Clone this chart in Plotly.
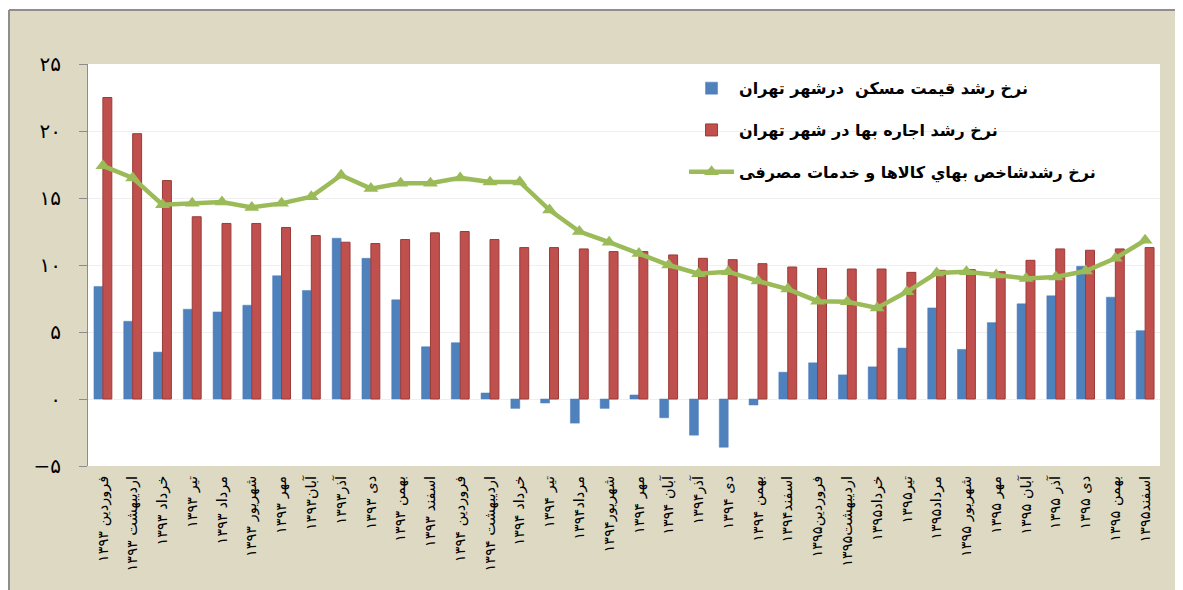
import plotly.graph_objects as go

categories = [
    "فروردین ۱۳۹۳", "اردیبهشت ۱۳۹۳", "خرداد ۱۳۹۳", "تیر ۱۳۹۳", "مرداد ۱۳۹۳", "شهریور ۱۳۹۳",
    "مهر ۱۳۹۳", "آبان۱۳۹۳", "آذر۱۳۹۳", "دی ۱۳۹۳", "بهمن ۱۳۹۳", "اسفند ۱۳۹۳",
    "فروردین ۱۳۹۴", "اردیبهشت ۱۳۹۴", "خرداد ۱۳۹۴", "تیر ۱۳۹۴", "مرداد۱۳۹۴", "شهریور۱۳۹۴",
    "مهر ۱۳۹۴", "آبان ۱۳۹۴", "آذر۱۳۹۴", "دی ۱۳۹۴", "بهمن ۱۳۹۴", "اسفند۱۳۹۴",
    "فروردین۱۳۹۵", "اردیبهشت۱۳۹۵", "خرداد۱۳۹۵", "تیر۱۳۹۵", "مرداد۱۳۹۵", "شهریور ۱۳۹۵",
    "مهر ۱۳۹۵", "آبان ۱۳۹۵", "آذر ۱۳۹۵", "دی ۱۳۹۵", "بهمن ۱۳۹۵", "اسفند۱۳۹۵",
]

housing_price = [
    8.4, 5.8, 3.5, 6.7, 6.5, 7.0, 9.2, 8.1, 12.0, 10.5, 7.4, 3.9,
    4.2, 0.45, -0.7, -0.3, -1.8, -0.7, 0.3, -1.4, -2.7, -3.6, -0.45, 2.0,
    2.7, 1.8, 2.4, 3.8, 6.8, 3.7, 5.7, 7.1, 7.7, 9.9, 7.6, 5.1,
]

rent = [
    22.5, 19.8, 16.3, 13.6, 13.1, 13.1, 12.8, 12.2, 11.7, 11.6, 11.9, 12.4,
    12.5, 11.9, 11.3, 11.3, 11.2, 11.0, 11.0, 10.75, 10.5, 10.4, 10.1, 9.85,
    9.75, 9.7, 9.7, 9.45, 9.6, 9.65, 9.5, 10.35, 11.2, 11.1, 11.2, 11.3,
]

cpi = [
    17.4, 16.5, 14.5, 14.6, 14.7, 14.3, 14.6, 15.1, 16.7, 15.7, 16.1, 16.1,
    16.5, 16.2, 16.2, 14.1, 12.5, 11.7, 10.85, 10.0, 9.35, 9.5, 8.8, 8.2,
    7.3, 7.25, 6.8, 8.0, 9.4, 9.5, 9.25, 9.0, 9.1, 9.55, 10.5, 11.85,
]

y_tickvals = [-5, 0, 5, 10, 15, 20, 25]
y_ticktext = ["−۵", "۰", "۵", "۱۰", "۱۵", "۲۰", "۲۵"]

series_names = [
    "نرخ رشد قیمت مسکن  درشهر تهران",
    "نرخ رشد اجاره بها در شهر تهران",
    "نرخ رشدشاخص بهاي كالاها و خدمات مصرفی",
]

FONT = "DejaVu Sans"
BEIGE = "#DDD9C3"
AXIS_GREY = "#8C8C8C"

fig = go.Figure()
fig.add_trace(go.Bar(
    x=categories, y=housing_price, name=series_names[0], legendgroup="a",
    marker=dict(color="#4F81BD", line=dict(color="#4A7DBA", width=0.5)),
))
fig.add_trace(go.Bar(
    x=categories, y=rent, name=series_names[1], legendgroup="b",
    marker=dict(color="#C0504D", line=dict(color="#9A3B38", width=1)),
))
fig.add_trace(go.Scatter(
    x=categories, y=cpi, name=series_names[2], legendgroup="c",
    mode="lines+markers",
    line=dict(color="#9BBB59", width=4.5),
    marker=dict(symbol="triangle-up", size=13, color="#9BBB59"),
))

n = len(categories)
boundaries = [i + 0.5 for i in range(n)]

# page body has an 8px margin: the figure starts at (8, 8) on the page
fig.update_layout(
    width=1183, height=590,
    margin=dict(l=80, r=31, t=56, b=132),
    paper_bgcolor=BEIGE,
    plot_bgcolor="white",
    barmode="group",
    bargap=0.4,
    bargroupgap=0,
    font=dict(family=FONT, color="black"),
    showlegend=True,
    legend=dict(
        x=0.556, y=0.982, xanchor="left", yanchor="top",
        bgcolor="rgba(0,0,0,0)",
        font=dict(family=FONT, size=16, color="black", weight="bold"),
        traceorder="grouped",
        tracegroupgap=18,
        itemwidth=45,
    ),
    xaxis=dict(
        type="category",
        range=[-0.5, n - 0.5],
        tickangle=-90,
        tickfont=dict(family=FONT, size=14.5, color="black"),
        showline=False, ticks="", showgrid=False, zeroline=False,
        ticklabelstandoff=6,
    ),
    xaxis2=dict(
        overlaying="x", anchor="free", position=5 / 30, side="bottom",
        type="linear", range=[-0.5, n - 0.5],
        tickmode="array", tickvals=boundaries,
        ticks="outside", ticklen=6, tickcolor=AXIS_GREY,
        showticklabels=False, showline=True, linecolor=AXIS_GREY, linewidth=1,
        showgrid=False, zeroline=False,
    ),
    yaxis=dict(
        range=[-5, 25],
        tickmode="array", tickvals=y_tickvals, ticktext=y_ticktext,
        tickfont=dict(family=FONT, size=20, color="black"),
        ticks="outside", ticklen=8, tickcolor=AXIS_GREY,
        showline=True, linecolor=AXIS_GREY, linewidth=1,
        showgrid=True, gridcolor="#EFEFEF", gridwidth=1,
        zeroline=False,
        ticklabelstandoff=14,
    ),
    shapes=[
        dict(type="rect", xref="paper", yref="paper", x0=-0.1, x1=1.1, y0=54 / 402 + 1, y1=1.25,
             fillcolor="white", line=dict(width=0), layer="above"),
        dict(type="line", xref="paper", yref="paper", x0=-79 / 1072, x1=1.1, y0=54 / 402 + 1, y1=54 / 402 + 1,
             line=dict(color="#8E8E8E", width=2), layer="above"),
        dict(type="line", xref="paper", yref="paper", x0=-79 / 1072, x1=-79 / 1072, y0=-0.5, y1=54 / 402 + 1,
             line=dict(color="#8E8E8E", width=2), layer="above"),
    ],
)

fig.write_html("out.html")
